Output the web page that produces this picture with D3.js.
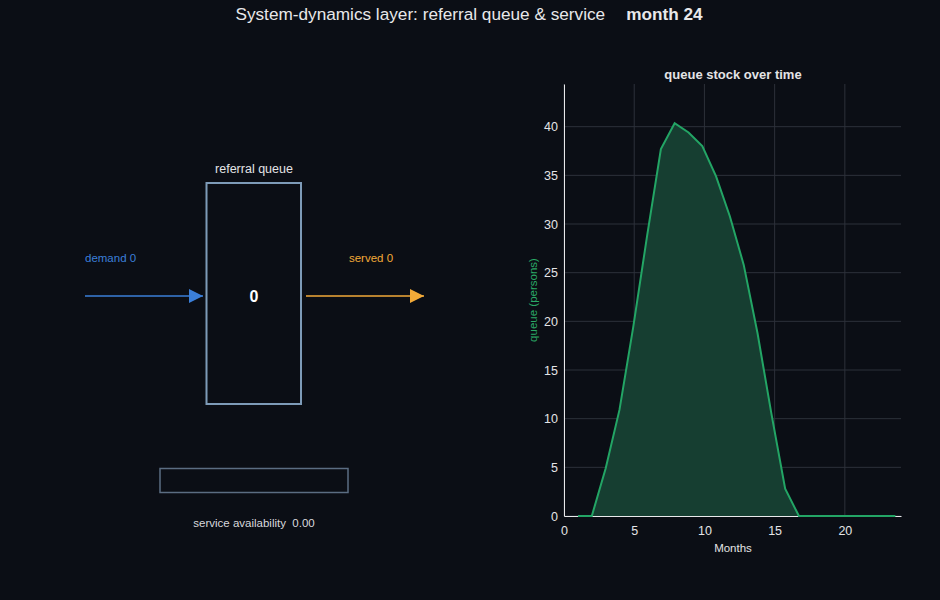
<!DOCTYPE html>
<html>
<head>
<meta charset="utf-8">
<script src="https://cdn.jsdelivr.net/npm/d3@7"></script>
<style>
  body { margin: 0; background: #0b0e15; }
  svg { display: block; font-family: "Liberation Sans", Arial, sans-serif; }
  text { white-space: pre; }
</style>
</head>
<body>
<script>
// queue stock
var months = [1, 1.98, 2.97, 3.95, 4.93, 5.92, 6.9, 7.88, 8.87, 9.85, 10.83, 11.81,
              12.8, 13.78, 14.76, 15.75, 16.73, 17.71, 18.7, 19.68, 20.66, 21.64, 22.63, 23.6];
var queue = [0, 0, 4.9, 10.9, 19.4, 28.8, 37.7, 40.35, 39.4, 38, 34.9, 30.8,
             25.8, 18.8, 10.6, 2.8, 0, 0, 0, 0, 0, 0, 0, 0];
var xTicks = [0, 5, 10, 15, 20];
var yTicks = [0, 5, 10, 15, 20, 25, 30, 35, 40];

var currentMonth = 24;
var stockNow = 0, demandNow = 0, servedNow = 0, availability = 0;

var width = 940, height = 600;
var svg = d3.select("body").append("svg").attr("width", width).attr("height", height);
svg.append("rect").attr("width", width).attr("height", height).attr("fill", "#0b0e15");

// title
var title = svg.append("text").attr("x", 469).attr("y", 20).attr("text-anchor", "middle")
  .attr("font-size", 17.2).attr("fill", "#e8e8ea");
title.append("tspan").text("System-dynamics layer: referral queue & service");
title.append("tspan").attr("dx", 21).attr("font-weight", "bold").text("month " + currentMonth);

// ---- stock & flow diagram ----
var defs = svg.append("defs");
function marker(id, col) {
  defs.append("marker").attr("id", id).attr("viewBox", "0 0 10 10")
    .attr("refX", 10).attr("refY", 5).attr("markerWidth", 17).attr("markerHeight", 14)
    .attr("markerUnits", "userSpaceOnUse").attr("orient", "auto")
    .append("path").attr("d", "M0,0L10,5L0,10Z").attr("fill", col);
}
marker("arrBlue", "#3b7fd9");
marker("arrOrange", "#f3aa38");

var g = svg.append("g");
g.append("rect").attr("x", 206.5).attr("y", 183).attr("width", 94.5).attr("height", 221)
  .attr("fill", "none").attr("stroke", "#7e9bb8").attr("stroke-width", 2);
g.append("text").attr("x", 254).attr("y", 173).attr("text-anchor", "middle")
  .attr("font-size", 12.5).attr("fill", "#e4e4e6").text("referral queue");
g.append("text").attr("x", 254).attr("y", 302).attr("text-anchor", "middle")
  .attr("font-size", 16).attr("font-weight", "bold").attr("fill", "#ffffff").text(stockNow);

g.append("line").attr("x1", 85).attr("x2", 203).attr("y1", 296).attr("y2", 296)
  .attr("stroke", "#3b7fd9").attr("stroke-width", 1.6).attr("marker-end", "url(#arrBlue)");
g.append("text").attr("x", 85).attr("y", 262).attr("font-size", 11.5)
  .attr("fill", "#3b7fd9").text("demand " + demandNow);

g.append("line").attr("x1", 306).attr("x2", 424).attr("y1", 296).attr("y2", 296)
  .attr("stroke", "#f3aa38").attr("stroke-width", 1.6).attr("marker-end", "url(#arrOrange)");
g.append("text").attr("x", 371).attr("y", 262).attr("text-anchor", "middle").attr("font-size", 11.5)
  .attr("fill", "#f3aa38").text("served " + servedNow);

// availability bar
var barX = d3.scaleLinear().domain([0, 1]).range([160, 348]);
g.append("rect").attr("x", barX(0)).attr("y", 468.5).attr("width", barX(availability) - barX(0))
  .attr("height", 24).attr("fill", "#2aa866");
g.append("rect").attr("x", barX(0)).attr("y", 468.5).attr("width", barX(1) - barX(0)).attr("height", 24)
  .attr("fill", "none").attr("stroke", "#5b6d82").attr("stroke-width", 1.5);
g.append("text").attr("x", 254).attr("y", 527).attr("text-anchor", "middle").attr("font-size", 11.5)
  .attr("fill", "#d8d8dc").text("service availability  " + availability.toFixed(2));

// ---- queue chart ----
var x = d3.scaleLinear().domain([0, 24]).range([564, 901]);
var y = d3.scaleLinear().domain([0, d3.max(queue) * 1.1]).range([516, 84]);
var data = months.map(function(m, i) { return { m: m, q: queue[i] }; });

var c = svg.append("g");
c.selectAll("line.gx").data(xTicks).enter().append("line")
  .attr("x1", function(d) { return x(d); }).attr("x2", function(d) { return x(d); })
  .attr("y1", y.range()[0]).attr("y2", y.range()[1])
  .attr("stroke", "#2d313a").attr("stroke-width", 1);
c.selectAll("line.gy").data(yTicks).enter().append("line")
  .attr("x1", x.range()[0]).attr("x2", x.range()[1])
  .attr("y1", function(d) { return y(d); }).attr("y2", function(d) { return y(d); })
  .attr("stroke", "#2d313a").attr("stroke-width", 1);

var xAxis = c.append("g").attr("transform", "translate(0,516)")
  .call(d3.axisBottom(x).tickValues(xTicks).tickSize(0).tickPadding(10));
var yAxis = c.append("g").attr("transform", "translate(564,0)")
  .call(d3.axisLeft(y).tickValues(yTicks).tickSize(0).tickPadding(6));
[xAxis, yAxis].forEach(function(a) {
  a.select(".domain").attr("stroke", "#e8e8ea").attr("stroke-width", 1);
  a.selectAll("text").attr("fill", "#e4e4e6").attr("font-size", 12.5)
    .attr("font-family", "Liberation Sans, Arial, sans-serif");
});

c.append("path").datum(data)
  .attr("d", d3.area().x(function(d) { return x(d.m); }).y0(y(0)).y1(function(d) { return y(d.q); }))
  .attr("fill", "#163e31");
c.append("path").datum(data)
  .attr("d", d3.line().x(function(d) { return x(d.m); }).y(function(d) { return y(d.q); }))
  .attr("fill", "none").attr("stroke", "#23a565").attr("stroke-width", 2);

c.append("text").attr("x", 733).attr("y", 79).attr("text-anchor", "middle").attr("font-size", 13)
  .attr("font-weight", "bold").attr("fill", "#e4e4e6").text("queue stock over time");
c.append("text").attr("x", 733).attr("y", 552).attr("text-anchor", "middle").attr("font-size", 11.5)
  .attr("fill", "#e4e4e6").text("Months");
c.append("text").attr("transform", "translate(537,300) rotate(-90)").attr("text-anchor", "middle")
  .attr("font-size", 11.5).attr("fill", "#2aa866").text("queue (persons)");
</script>
</body>
</html>
